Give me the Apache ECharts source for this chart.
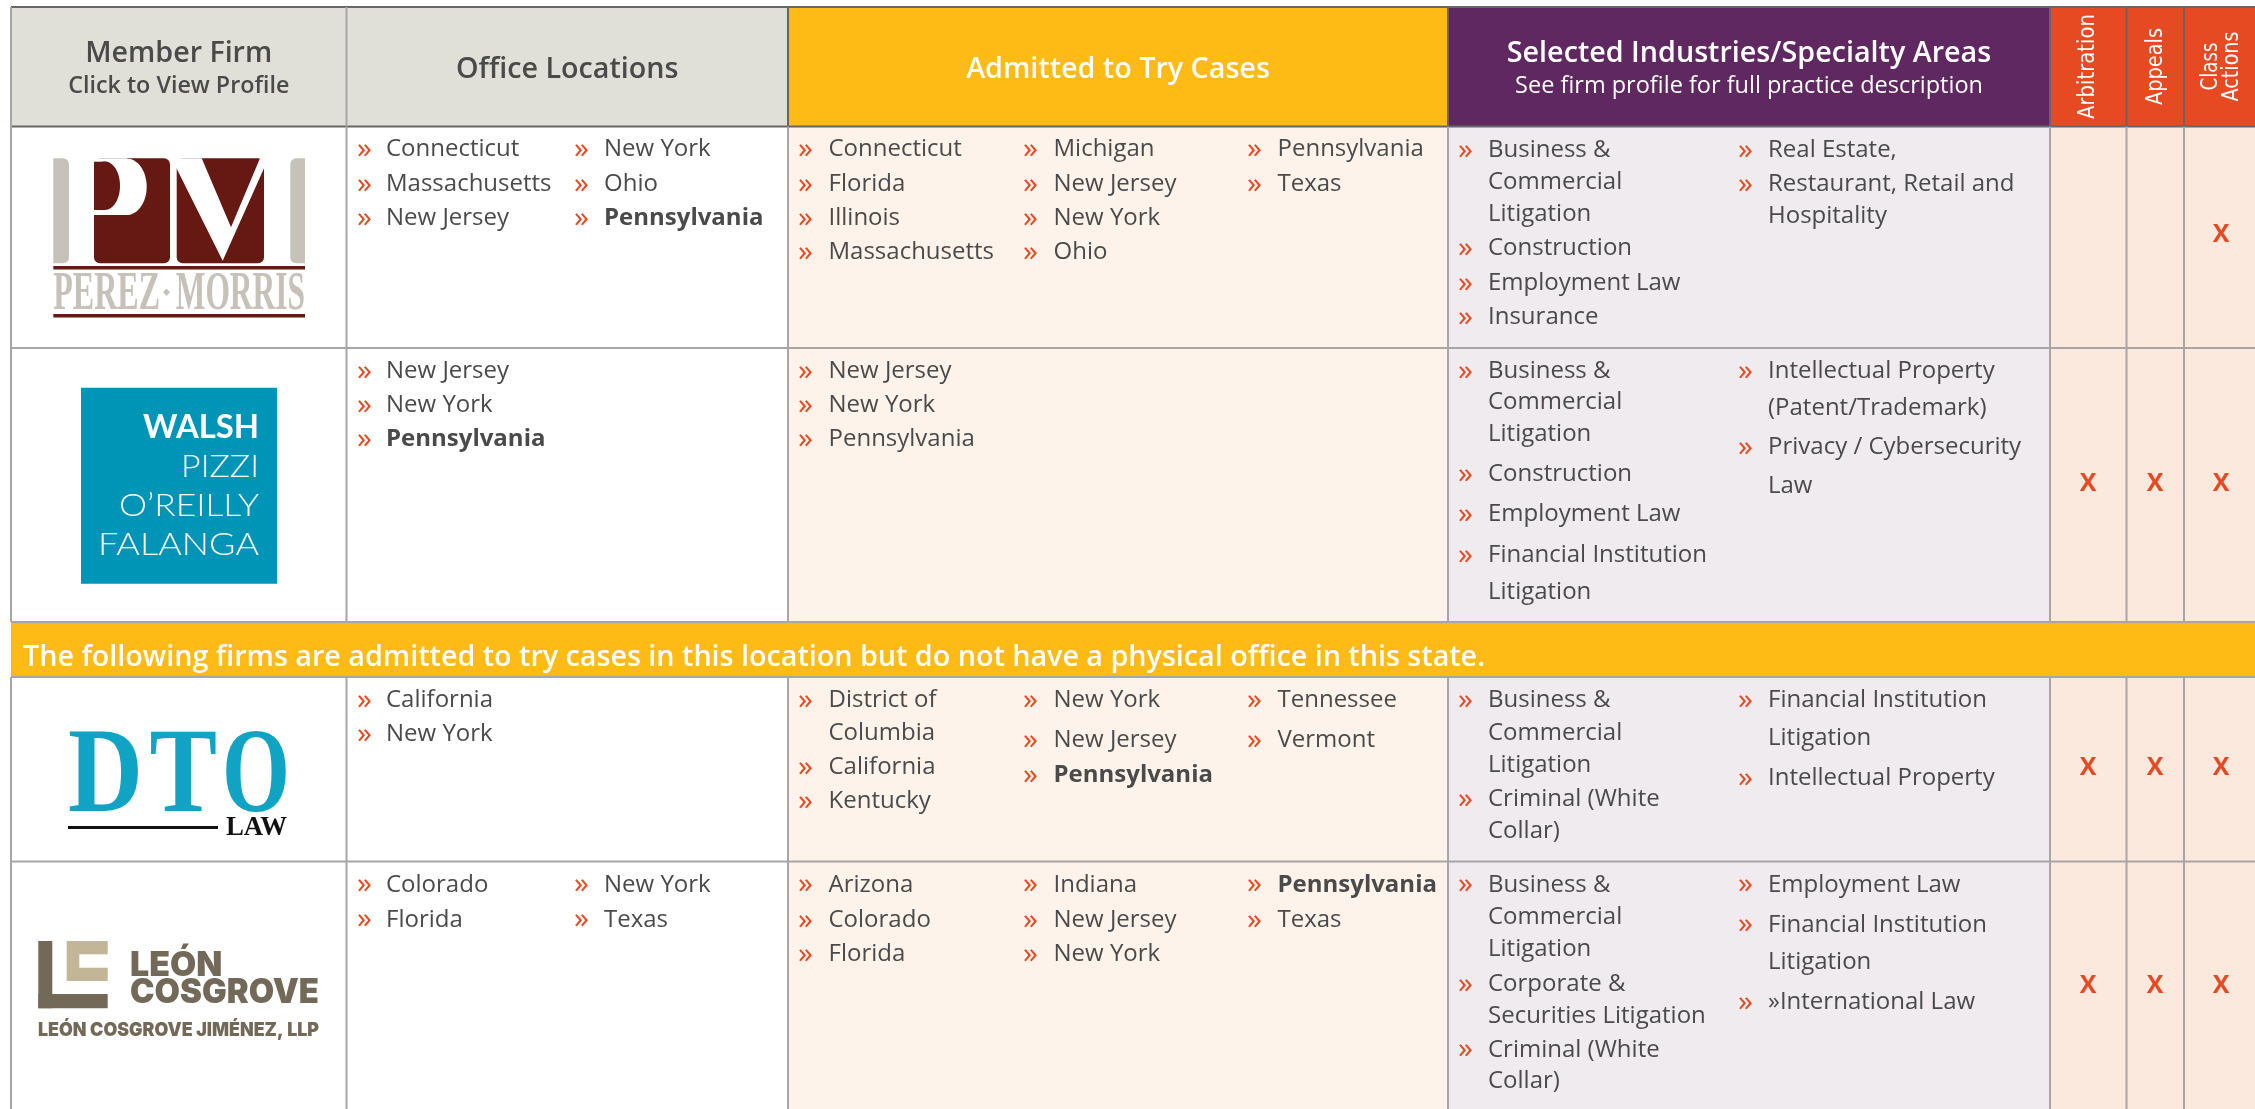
<!DOCTYPE html>
<html>
<head>
<meta charset="utf-8">
<title>Member firms</title>
<script src="https://cdn.jsdelivr.net/npm/echarts@6/dist/echarts.min.js"></script>
<style>
    html, body { margin: 0; padding: 0; background: #fff; }
    #main { width: 2255px; height: 1109px; }
</style>
</head>
<body>
<div id="main"></div>
<script>
// table content. a nested list is one item wrapped over lines, * marks bold
const perezOffices = [['Connecticut', 'Massachusetts', 'New Jersey'], ['New York', 'Ohio', '*Pennsylvania']];
const perezAdmitted = [['Connecticut', 'Florida', 'Illinois', 'Massachusetts'], ['Michigan', 'New Jersey', 'New York', 'Ohio'], ['Pennsylvania', 'Texas']];
const perezAreas = [[['Business &', 'Commercial', 'Litigation'], 'Construction', 'Employment Law', 'Insurance'], ['Real Estate,', ['Restaurant, Retail and', 'Hospitality']]];

const walshOffices = [['New Jersey', 'New York', '*Pennsylvania']];
const walshAdmitted = [['New Jersey', 'New York', 'Pennsylvania']];
const walshAreas = [[['Business &', 'Commercial', 'Litigation'], 'Construction', 'Employment Law', ['Financial Institution', 'Litigation']], [['Intellectual Property', '(Patent/Trademark)'], ['Privacy / Cybersecurity', 'Law']]];

const dtoOffices = [['California', 'New York']];
const dtoAdmitted = [[['District of', 'Columbia'], 'California', 'Kentucky'], ['New York', 'New Jersey', '*Pennsylvania'], ['Tennessee', 'Vermont']];
const dtoAreas = [[['Business &', 'Commercial', 'Litigation'], ['Criminal (White', 'Collar)']], [['Financial Institution', 'Litigation'], 'Intellectual Property']];

const leonOffices = [['Colorado', 'Florida'], ['New York', 'Texas']];
const leonAdmitted = [['Arizona', 'Colorado', 'Florida'], ['Indiana', 'New Jersey', 'New York'], ['*Pennsylvania', 'Texas']];
const leonAreas = [[['Business &', 'Commercial', 'Litigation'], ['Corporate &', 'Securities Litigation'], ['Criminal (White', 'Collar)']], ['Employment Law', ['Financial Institution', 'Litigation'], '»International Law']];

const arbitration = [0, 1, 1, 1];
const appeals = [0, 1, 1, 1];
const classActions = [1, 1, 1, 1];
const bannerText = 'The following firms are admitted to try cases in this location but do not have a physical office in this state.';

// layout of the table, in page pixels
const colEdges = [11, 346.5, 788, 1448, 2050, 2126.5, 2184, 2255];
const rowEdges = [7, 126.5, 348, 622, 677, 861.5, 1109];
const officeX = [[357, 386], [574, 604]];
const admittedX = [[798, 828.5], [1023, 1053.5], [1247, 1277.5]];
const areasX = [[1458, 1488], [1738, 1768]];
const markX = [2088, 2155, 2221];
const markY = [235, 484, 768, 986];
const dataRows = [1, 2, 4, 5];
const LINE_SHIFT = 1.4;

const officeY = [
    [[148, 182.6, 217], [148, 182.6, 217]],
    [[370, 404, 438]],
    [[699, 733]],
    [[883.3, 918.3], [883.3, 918.3]]
];
const admittedY = [
    [[148, 182.6, 217, 251], [148, 182.6, 217, 251], [148, 182.6]],
    [[370, 404, 438]],
    [[699, 731.7, 765.7, 800], [699, 739, 774], [699, 739]],
    [[883.3, 918.7, 952.7], [883.3, 918.7, 952.7], [883.3, 918.7]]
];
const areasY = [
    [[149, 181, 213, 246.7, 282, 315.7], [149, 182.7, 215]],
    [[369.6, 401, 433, 473, 513, 553.6, 591], [369.6, 407, 446, 484.6]],
    [[699, 731.7, 764, 797.7, 829.7], [699, 736.7, 777]],
    [[883.3, 915.7, 947.7, 982.7, 1014.7, 1048.3, 1080], [883.3, 923.3, 960.7, 1000.7]]
];

const GREY = '#e0e0d8', YELLOW = '#ffbb15', PURPLE = '#5f2860', ORANGE = '#e64a23';
const TEXT = '#4a4a4a', LINE = '#a6a6a6';
const SANS = '"Open Sans", sans-serif';
const SERIF = '"Liberation Serif", serif';

const ctx = document.createElement('canvas').getContext('2d');
// horizontal squeeze so a string takes the width it has in the reference
function fit(text, weight, size, family, width) {
    ctx.font = weight + ' ' + size + 'px ' + family;
    return width / ctx.measureText(text).width;
}

const cells = [];
const lines = [];
const texts = [];

function label(x, y, text, fill, size, weight, align, extra) {
    texts.push(Object.assign({ x, y, text, fill, size, weight, align, family: SANS }, extra));
}

// header
[GREY, GREY, YELLOW, PURPLE, ORANGE, ORANGE, ORANGE].forEach((fill, i) => {
    cells.push({ x0: colEdges[i], x1: colEdges[i + 1], y0: rowEdges[0], y1: rowEdges[1], fill });
});
// body columns
dataRows.forEach(r => {
    ['#ffffff', '#ffffff', '#fef3eb', '#efebef', '#fbe9dd', '#fbe9dd', '#fbe9dd'].forEach((fill, i) => {
        cells.push({ x0: colEdges[i], x1: colEdges[i + 1], y0: rowEdges[r], y1: rowEdges[r + 1], fill });
    });
});
// banner row
cells.push({ x0: colEdges[0], x1: colEdges[7], y0: rowEdges[3], y1: rowEdges[4], fill: YELLOW });

// grid lines
lines.push({ x0: colEdges[0], x1: colEdges[7], y0: rowEdges[0], y1: rowEdges[0], color: '#666666', width: 2 });
lines.push({ x0: colEdges[0], x1: colEdges[7], y0: rowEdges[1], y1: rowEdges[1], color: '#666666', width: 2 });
[2, 3, 4, 5].forEach(r => {
    lines.push({ x0: colEdges[0], x1: colEdges[7], y0: rowEdges[r], y1: rowEdges[r], color: LINE, width: 2 });
});
colEdges.slice(0, 7).forEach((x, i) => {
    [[0, 1], [1, 3], [4, 6]].forEach(span => {
        const onHeader = span[0] === 0;
        lines.push({
            x0: x, x1: x, y0: rowEdges[span[0]], y1: rowEdges[span[1]],
            color: onHeader && i >= 2 ? '#70605f' : LINE, width: 2
        });
    });
});

// header labels
label((colEdges[0] + colEdges[1]) / 2, 53.5, 'Member Firm', TEXT, 28.6, 600, 'center');
label((colEdges[0] + colEdges[1]) / 2, 86, 'Click to View Profile', TEXT, 23.3, 600, 'center');
label((colEdges[1] + colEdges[2]) / 2, 69.5, 'Office Locations', TEXT, 28.7, 600, 'center');
label((colEdges[2] + colEdges[3]) / 2, 69.5, 'Admitted to Try Cases', '#ffffff', 28.7, 600, 'center');
label((colEdges[3] + colEdges[4]) / 2, 53.5, 'Selected Industries/Specialty Areas', '#ffffff', 28.7, 600, 'center');
label((colEdges[3] + colEdges[4]) / 2, 86, 'See firm profile for full practice description', '#ffffff', 23.5, 400, 'center');

function sideways(x, text, width) {
    label(x, 66.5, text, '#ffffff', 23, 400, 'center', {
        rotation: Math.PI / 2, family: '"DejaVu Sans"',
        scaleX: fit(text, 400, 23, '"DejaVu Sans"', width)
    });
}
sideways(2088.5, 'Arbitration', 105);
sideways(2156, 'Appeals', 77);
sideways(2211, 'Class', 48);
sideways(2232.5, 'Actions', 70);

label(23, 658, bannerText, '#ffffff', 28.7, 600, 'left');

// one list per column, every line gets its y from the layout above
function fillCell(columns, xs, ys) {
    columns.forEach((items, c) => {
        let n = 0;
        items.forEach(item => {
            [].concat(item).forEach((line, k) => {
                const y = ys[c][n++] + LINE_SHIFT;
                if (k === 0) label(xs[c][0], y, '»', ORANGE, 30, 400, 'left');
                const bold = line.charAt(0) === '*';
                label(xs[c][1], y, bold ? line.slice(1) : line, TEXT, 24, bold ? 700 : 400, 'left');
            });
        });
    });
}
[perezOffices, walshOffices, dtoOffices, leonOffices].forEach((v, r) => fillCell(v, officeX, officeY[r]));
[perezAdmitted, walshAdmitted, dtoAdmitted, leonAdmitted].forEach((v, r) => fillCell(v, admittedX, admittedY[r]));
[perezAreas, walshAreas, dtoAreas, leonAreas].forEach((v, r) => fillCell(v, areasX, areasY[r]));

[arbitration, appeals, classActions].forEach((col, c) => {
    col.forEach((on, r) => {
        if (on) label(markX[c], markY[r], 'X', ORANGE, 25, 700, 'center');
    });
});

// firm logos, they only exist as pictures in the reference so they are drawn from shapes
function rect(x, y, w, h, fill, r) {
    return { type: 'rect', shape: { x, y, width: w, height: h, r: r || 0 }, style: { fill }, silent: true };
}
function ellipse(cx, cy, rx, ry, fill) {
    return { type: 'ellipse', shape: { cx, cy, rx, ry }, style: { fill }, silent: true };
}
function poly(points, fill) {
    return { type: 'polygon', shape: { points }, style: { fill }, silent: true };
}
function logoText(text, x, y, w, size, weight, family, fill) {
    return {
        type: 'text', x, y, scaleX: fit(text, weight, size, family, w), silent: true,
        style: { text, x: 0, y: 0, fill, font: weight + ' ' + size + 'px ' + family, textAlign: 'left', textVerticalAlign: 'middle' }
    };
}
const RED = '#661812', STONE = '#c6c1b9', BROWN = '#736959', TAN = '#c2b598', TEAL = '#10a3c3', BLUE = '#0094b6';
const logos = [
    rect(53.3, 158.3, 15.7, 105, STONE, [0, 6, 6, 0]),
    rect(290.3, 158.3, 14.7, 105, STONE, [6, 0, 0, 6]),
    rect(94, 158.3, 76, 105, RED, 6),
    rect(94, 158.3, 32.7, 56.7, '#ffffff'),
    ellipse(126.7, 186.7, 20, 28.3, '#ffffff'),
    rect(94, 161.7, 11, 48.3, RED),
    ellipse(105, 185.8, 15, 24.2, RED),
    rect(86, 155, 8, 112, '#ffffff'),
    rect(176.7, 158.3, 87.3, 105, RED, 6),
    poly([[176, 158.3], [201.7, 158.3], [231, 227.3], [260, 158.3], [265, 158.3], [265, 166], [222.7, 260.7], [176, 167.3]], '#ffffff'),
    rect(53.3, 266, 251.7, 3.5, RED),
    rect(53.3, 314, 251.7, 3.5, RED),
    logoText('PEREZ', 53.3, 295, 106.7, 54, 700, SERIF, STONE),
    poly([[166.5, 288.5], [170, 292.3], [166.5, 296], [163, 292.3]], STONE),
    logoText('MORRIS', 175.7, 295, 129.3, 54, 700, SERIF, STONE),

    rect(81, 387.7, 196, 196, BLUE),
    logoText('WALSH', 143, 427.5, 116, 32, 700, 'Lato', '#ffffff'),
    logoText('PIZZI', 181, 466.5, 78, 32, 300, 'Lato', '#ffffff'),
    logoText('O’REILLY', 119, 506, 140, 32, 300, 'Lato', '#ffffff'),
    logoText('FALANGA', 98, 545, 161, 32, 300, 'Lato', '#ffffff'),

    logoText('D', 68, 780, 75, 120, 700, SERIF, TEAL),
    logoText('T', 149.5, 780, 67.5, 120, 700, SERIF, TEAL),
    logoText('O', 222, 780, 68, 120, 700, SERIF, TEAL),
    rect(68, 826, 150, 3, '#111111'),
    logoText('LAW', 226, 827.5, 61, 28, 700, SERIF, '#111111'),

    rect(38.3, 941, 14, 67.3, BROWN),
    rect(38.3, 994, 69.4, 14.3, BROWN),
    rect(66.7, 941, 41, 40, TAN),
    rect(79.3, 954.3, 29, 13.4, '#ffffff'),
    logoText('LEÓN', 130, 966, 92.3, 34, 900, 'Inter', BROWN),
    logoText('COSGROVE', 130, 992.5, 189, 34, 900, 'Inter', BROWN),
    logoText('LEÓN COSGROVE JIMÉNEZ, LLP', 38, 1030, 281, 19, 900, 'Inter', BROWN)
];

const chart = echarts.init(document.getElementById('main'));
chart.setOption({
    animation: false,
    grid: { left: 0, right: 0, top: 0, bottom: 0 },
    xAxis: { type: 'value', min: 0, max: 2255, show: false },
    yAxis: { type: 'value', min: 0, max: 1109, inverse: true, show: false },
    tooltip: { show: false },
    series: [
        {
            type: 'custom', silent: true, clip: false, z: 1,
            data: cells.map((c, i) => [c.x0, c.y0, i]),
            renderItem(params, api) {
                const c = cells[params.dataIndex];
                const a = api.coord([c.x0, c.y0]), b = api.coord([c.x1, c.y1]);
                return { type: 'rect', shape: { x: a[0], y: a[1], width: b[0] - a[0], height: b[1] - a[1] }, style: { fill: c.fill } };
            }
        },
        {
            type: 'custom', silent: true, clip: false, z: 2,
            data: lines.map((l, i) => [l.x0, l.y0, i]),
            renderItem(params, api) {
                const l = lines[params.dataIndex];
                const a = api.coord([l.x0, l.y0]), b = api.coord([l.x1, l.y1]);
                return { type: 'line', shape: { x1: a[0], y1: a[1], x2: b[0], y2: b[1] }, style: { stroke: l.color, lineWidth: l.width } };
            }
        },
        {
            type: 'custom', silent: true, clip: false, z: 3,
            data: texts.map((t, i) => [t.x, t.y, i]),
            renderItem(params, api) {
                const t = texts[params.dataIndex];
                const p = api.coord([t.x, t.y]);
                return {
                    type: 'text', x: p[0], y: p[1], rotation: t.rotation || 0, scaleX: t.scaleX || 1,
                    style: {
                        text: t.text, fill: t.fill, fontFamily: t.family, fontSize: t.size, fontWeight: t.weight,
                        align: t.align, verticalAlign: 'middle'
                    }
                };
            }
        }
    ],
    graphic: { elements: logos.map(e => Object.assign({ z: 10 }, e)) }
});
</script>
</body>
</html>
